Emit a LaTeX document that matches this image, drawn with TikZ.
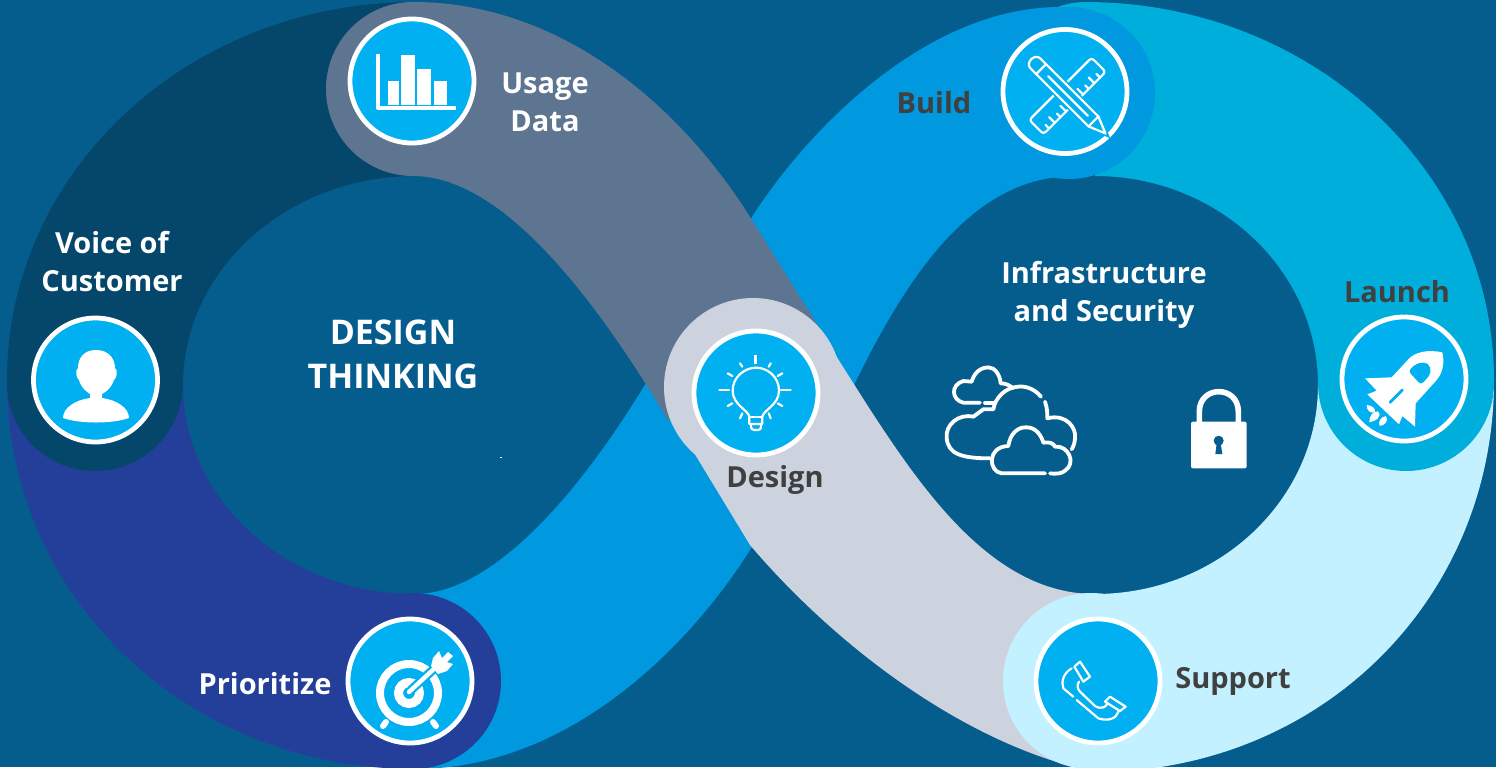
\documentclass[tikz,border=0pt]{standalone}
\usepackage{fontspec}
\setmainfont{Open Sans}

\definecolor{bgblue}{HTML}{055D8E}
\definecolor{navyband}{HTML}{05466B}
\definecolor{indigoband}{HTML}{243F99}
\definecolor{blueband}{HTML}{0098DE}
\definecolor{tealband}{HTML}{00AEDB}
\definecolor{cyanband}{HTML}{C4F1FF}
\definecolor{slateband}{HTML}{5E7592}
\definecolor{silverband}{HTML}{CCD3DF}
\definecolor{iconblue}{HTML}{00B0F0}
\definecolor{darktext}{HTML}{404040}

\tikzset{
	iconcircle/.style={circle,draw=white,line width=2.4pt,fill=iconblue,minimum size=62pt,inner sep=0pt},
	lightlabel/.style={text=white,font=\fontsize{14.5}{19}\selectfont\bfseries,align=center,inner sep=0pt},
	darklabel/.style={text=darktext,font=\fontsize{14.5}{19}\selectfont\bfseries,align=center,inner sep=0pt},
	zoomed/.style={x=0.16667pt,y=-0.16667pt},
	iconline/.style={draw=white,line width=1.1pt,line cap=round,line join=round},
	cloudline/.style={draw=white,line width=1.9pt,line cap=round,line join=round}
}

\begin{document}
\begin{tikzpicture}[x=0.5pt,y=-0.5pt]

\useasboundingbox (0,0) rectangle (1496,767);
\clip (0,0) rectangle (1496,767);
\fill[bgblue] (0,0) rectangle (1496,767);

	%Support band
\fill[cyanband] (1494,380) .. controls (1494,600) and (1320,772) .. (1095,772)
	-- (1095,594) .. controls (1218,594) and (1318,500) .. (1318,385) -- cycle;

	%Launch band
\fill[tealband] (1055,8) .. controls (1065,4) and (1075,2) .. (1085,2)
	.. controls (1310,2) and (1494,170) .. (1494,380)
	-- (1318,385) .. controls (1318,270) and (1218,176) .. (1095,176) -- cycle;
\fill[tealband] (1406,383) circle (88);

	%Build band
\fill[blueband] (415,594) .. controls (490,594) and (575,500) .. (646,383)
	-- (750,220) .. controls (810,125) and (930,7) .. (1060,7)
	-- (1075,176) .. controls (980,176) and (915,260) .. (855,383)
	-- (750,550) .. controls (690,645) and (570,769) .. (415,769) -- cycle;
\fill[blueband] (1069,93) circle (86);

	%Prioritize band
\fill[indigoband] (7,380) .. controls (7,600) and (190,769) .. (415,769)
	-- (415,594) .. controls (287,594) and (183,500) .. (183,385) -- cycle;
\fill[indigoband] (413,681) circle (88);

	%Voice of Customer band
\fill[navyband] (415,2) .. controls (190,2) and (7,170) .. (7,380)
	-- (183,385) .. controls (183,270) and (287,176) .. (415,176) -- cycle;
\fill[navyband] (95,383) circle (88);

	%Usage Data band
\fill[slateband] (413,2) .. controls (560,2) and (680,105) .. (750,217)
	-- (830,345) -- (720,420) -- (668,420)
	.. controls (590,290) and (500,176) .. (413,176) -- cycle;
\fill[slateband] (413,89) circle (87);

	%Design band
\fill[silverband] (826,340) -- (864,400) .. controls (925,495) and (995,594) .. (1095,594)
	-- (1095,772) .. controls (965,745) and (835,645) .. (750,545) -- (668,410) -- cycle;
\fill[silverband] (753,387) circle (89);

	%Support cap
\fill[cyanband] (1091,681) circle (88);

\fill[white] (500,456.5) rectangle (502,458);

	%icon discs
\node[iconcircle] (voice) at (95.5,380) {};
\node[iconcircle] (usage) at (412,81) {};
\node[iconcircle] (design) at (756,393) {};
\node[iconcircle] (build) at (1065,91.5) {};
\node[iconcircle] (launch) at (1404,379) {};
\node[iconcircle] (support) at (1098,681) {};
\node[iconcircle] (prioritize) at (410,681) {};

	%labels
\node[lightlabel,font=\fontsize{17}{22}\selectfont\bfseries] (title) at (393,354) {DESIGN\\THINKING};
\node[lightlabel] (voicetext) at (112,262) {Voice of\\Customer};
\node[lightlabel] (usagetext) at (545,102) {Usage\\Data};
\node[lightlabel] (prioritizetext) at (265,684) {Prioritize};
\node[darklabel] (buildtext) at (934,103) {Build};
\node[darklabel] (designtext) at (775,480) {Design};
\node[darklabel] (launchtext) at (1397,292) {Launch};
\node[darklabel] (supporttext) at (1233,681) {Support};
\node[lightlabel] (infratext) at (1104,295) {Infrastructure\\and Security};

	%person
\fill[white] (96,350) .. controls (83,350) and (78,359) .. (78,368)
	.. controls (75,370) and (76,378) .. (79,380) .. controls (81,388) and (87,392) .. (90,394)
	-- (90,398) .. controls (75,400) and (63,408) .. (63,418)
	.. controls (80,424) and (112,424) .. (129,418) .. controls (129,408) and (117,400) .. (102,398)
	-- (102,394) .. controls (108,391) and (112,386) .. (114,380)
	.. controls (117,378) and (118,370) .. (115,368) .. controls (115,359) and (109,350) .. (96,350) -- cycle;

	%chart
\draw[white,line width=2pt,line join=round] (378,54) -- (378,108) -- (456,108);
\fill[white] (387.5,81) rectangle (398.5,105);
\fill[white] (401,55) rectangle (415,105);
\fill[white] (417,69) rectangle (431,105);
\fill[white] (433.5,81) rectangle (447,105);

	%target
\draw[white,line width=4pt] (409,693) circle (29);
\draw[white,line width=4.5pt] (409,693) circle (10.5);
\draw[white,line width=3pt,line cap=round] (383,726) -- (386,722);
\draw[white,line width=3pt,line cap=round] (436,726) -- (433,722);
\draw[iconblue,line width=4.5pt] (411,690) -- (436,667);
\draw[white,line width=2.2pt,line cap=round] (409,692) -- (436,667);
\fill[white] (433,658) -- (439,651) -- (442,658) -- (448,652) -- (453,656) -- (447,662)
	-- (453,664) -- (447,671) -- (438,674) -- (431,666) -- cycle;

	%ruler
\begin{scope}[shift={(1067.5,95.9)},rotate=45]
\draw[iconline,rounded corners=1.5pt] (-44,-10) rectangle (44,10);
\foreach \tick/\ticklen in {-36/5,-28/8,-20/5,-12/8,12/8,20/5,28/8,36/5}
	\draw[iconline] (\tick,10) -- (\tick,10-\ticklen);
\end{scope}

	%pencil
\begin{scope}[shift={(1068,96)},rotate=-45]
\path[draw=iconblue,line width=2.6pt,fill=iconblue] (-46,-7) -- (36,-7) -- (53,0) -- (36,7) -- (-46,7) -- cycle;
\draw[iconline] (-46,-7) -- (36,-7) -- (53,0) -- (36,7) -- (-46,7) .. controls (-54,7) and (-54,-7) .. (-46,-7);
\draw[iconline] (-38,-7) -- (-38,7);
\draw[iconline] (-28,0) -- (28,0);
\draw[iconline] (36,-7) -- (36,7);
\end{scope}

	%rocket
\begin{scope}[shift={(1325,300)},zoomed]
\fill[white] (352,157) .. controls (310,148) and (270,155) .. (250,178) -- (200,232) -- (120,235)
	-- (155,272) -- (127,283) -- (222,373) -- (232,348) -- (270,380) -- (272,310) -- (335,240)
	.. controls (352,220) and (360,190) .. (352,157) -- cycle;
\fill[iconblue] (256,208) .. controls (270,190) and (295,182) .. (308,192) .. controls (322,205) and (318,225) .. (303,238)
	-- (295,247) .. controls (290,252) and (285,251) .. (280,246) -- (258,222) .. controls (253,217) and (253,212) .. (256,208) -- cycle;
\draw[iconblue,line width=1.4pt,line cap=round] (195,307) -- (232,270);
\fill[white] (125,315) .. controls (142,316) and (152,326) .. (150,336) .. controls (138,342) and (124,332) .. (125,315) -- cycle;
\fill[white] (133,367) .. controls (132,348) and (144,334) .. (158,334) .. controls (174,346) and (154,364) .. (133,367) -- cycle;
\fill[white] (164,378) .. controls (158,365) and (168,350) .. (183,348) .. controls (192,362) and (180,376) .. (164,378) -- cycle;
\end{scope}

	%bulb
\begin{scope}[shift={(680,320)},zoomed]
\draw[iconline] (208,312) -- (208,290) .. controls (205,270) and (158,255) .. (158,212)
	.. controls (158,170) and (195,143) .. (228,143) .. controls (262,143) and (297,170) .. (297,212)
	.. controls (297,255) and (250,270) .. (247,290) -- (247,312) -- cycle;
\draw[iconline] (208,292) -- (247,292);
\draw[iconline] (213,314) .. controls (213,326) and (215,330) .. (222,330) -- (235,330) .. controls (241,330) and (243,326) .. (243,314);
\draw[white,line width=1.6pt] (226,105) -- (226,133);
\draw[iconline] (180,130) -- (187,140);
\draw[iconline] (272,130) -- (266,140);
\draw[iconline] (143,160) -- (157,168);
\draw[iconline] (307,160) -- (293,168);
\draw[iconline] (118,210) -- (147,210);
\draw[iconline] (303,210) -- (332,210);
\draw[iconline] (143,258) -- (157,250);
\draw[iconline] (307,258) -- (293,250);
\draw[iconline] (180,295) -- (187,280);
\draw[iconline] (272,295) -- (266,280);
\end{scope}

	%clouds
\begin{scope}[shift={(930,350)},zoomed]
\draw[cloudline] (150,158) -- (100,158) .. controls (65,150) and (60,105) .. (100,93) -- (125,95)
	.. controls (135,60) and (160,52) .. (175,52) .. controls (195,52) and (210,75) .. (212,100)
	.. controls (225,100) and (240,105) .. (248,115);
\draw[cloudline] (165,158) -- (192,158);
\draw[cloudline] (333,140) .. controls (310,112) and (280,108) .. (265,110) .. controls (225,112) and (195,145) .. (190,178)
	-- (160,178) -- (130,200) .. controls (85,190) and (45,225) .. (50,265) .. controls (55,310) and (90,325) .. (180,325);
\draw[cloudline] (345,155) .. controls (352,175) and (352,190) .. (352,205) .. controls (410,190) and (440,235) .. (435,265) .. controls (434,280) and (430,290) .. (425,298);
\draw[cloudline] (345,370) -- (215,370) .. controls (175,365) and (170,290) .. (235,288)
	.. controls (240,250) and (265,230) .. (290,232) .. controls (320,232) and (335,260) .. (340,278)
	.. controls (360,275) and (370,280) .. (375,290) .. controls (415,285) and (440,340) .. (405,362) .. controls (395,372) and (375,372) .. (360,370);
\end{scope}

	%lock
\begin{scope}[shift={(930,350)},zoomed]
\draw[white,line width=2.8pt] (808,220) -- (808,185) .. controls (808,105) and (925,105) .. (925,185) -- (925,220);
\fill[white,rounded corners=1pt] (783,215) rectangle (950,355);
\fill[bgblue] (866,272) circle (15);
\fill[bgblue] (860,280) -- (872,280) -- (877,312) -- (856,312) -- cycle;
\end{scope}

	%phone
\begin{scope}[shift={(1055,640)},zoomed]
\draw[iconline] (58,80) -- (75,65) -- (105,110) -- (85,125) -- cycle;
\draw[iconline] (150,185) -- (165,170) -- (212,200) -- (195,213) -- cycle;
\draw[iconline] (50,85) .. controls (25,100) and (18,125) .. (25,145) -- (55,170);
\draw[iconline] (65,180) -- (130,235) .. controls (160,245) and (185,235) .. (190,215);
\draw[iconline] (72,125) .. controls (65,135) and (68,148) .. (75,155) -- (120,198) .. controls (140,210) and (155,200) .. (158,188);
\end{scope}

\end{tikzpicture}
\end{document}
